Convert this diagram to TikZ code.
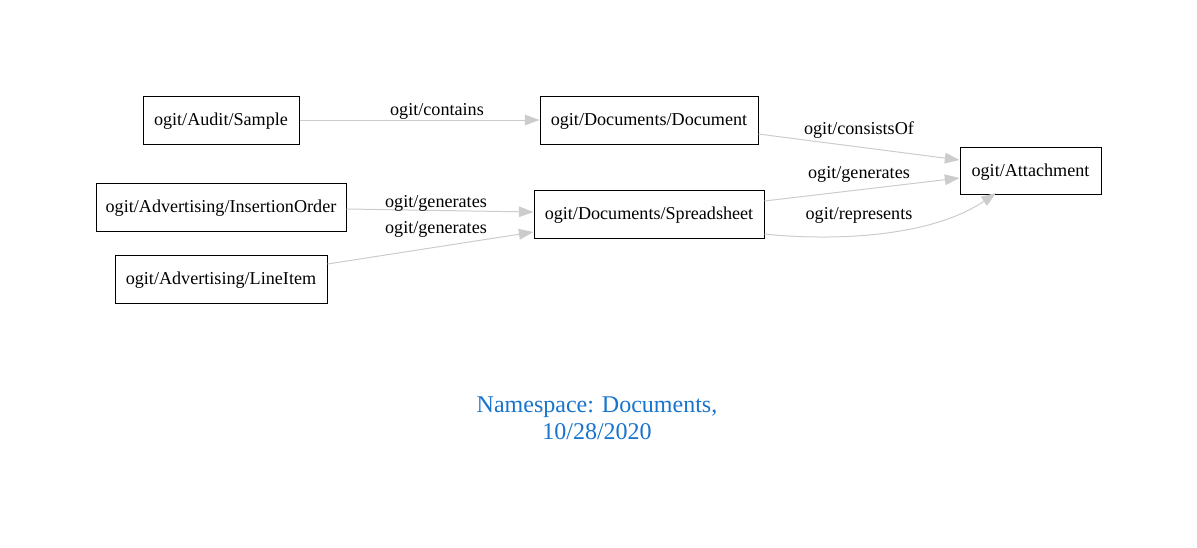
\documentclass[tikz,border=0pt]{standalone}
\usepackage{fontspec}
\setmainfont{Liberation Serif}
\usetikzlibrary{arrows.meta}
\definecolor{edgegray}{RGB}{204,204,204}
\definecolor{capblue}{RGB}{24,116,205}
\tikzset{
  box/.style={draw=black, line width=0.75pt, inner sep=0pt, minimum height=36pt, text depth=0.5pt, font=\fontsize{13.6}{16}\selectfont},
  rel/.style={draw=edgegray, line width=0.75pt, -{Triangle[length=11pt,width=8pt]}},
  lbl/.style={font=\fontsize{13.6}{16}\selectfont, inner sep=0pt}
}
\begin{document}
\begin{tikzpicture}[x=0.75pt,y=-0.75pt]
\useasboundingbox (0,0) rectangle (1197,547);
\node[box, minimum width=117pt] (sample) at (221,120) {ogit/Audit/Sample};
\node[box, minimum width=163.5pt] (doc) at (649,120) {ogit/Documents/Document};
\node[box, minimum width=105.75pt, minimum height=35.25pt] (att) at (1030.5,170.5) {ogit/Attachment};
\node[box, minimum width=187.5pt] (io) at (221,207) {ogit/Advertising/InsertionOrder};
\node[box, minimum width=172.5pt] (ss) at (649,214) {ogit/Documents/Spreadsheet};
\node[box, minimum width=159pt] (li) at (221,279) {ogit/Advertising/LineItem};

\draw[rel] (sample.east) -- (doc.west);
\node[lbl] (l1) at (437,111) {ogit/contains};

\draw[rel] (doc.east |- 0,134) -- (att.west |- 0,160);
\node[lbl] (l2) at (859,130) {ogit/consistsOf};

\draw[rel] (io.east |- 0,209) -- (ss.west |- 0,212);
\node[lbl] (l3) at (436,203) {ogit/generates};

\draw[rel] (li.east |- 0,264) -- (ss.west |- 0,232);
\node[lbl] (l4) at (436,229) {ogit/generates};

\draw[rel] (ss.east |- 0,201) -- (att.west |- 0,178);
\node[lbl] (l5) at (859,174) {ogit/generates};

\draw[rel] (ss.east |- 0,234) .. controls (830,241) and (930,238) .. (996,193);
\node[lbl] (l6) at (859,215) {ogit/represents};

\node[font=\fontsize{18}{20.25}\selectfont, text=capblue, align=center, inner sep=0pt] (cap) at (597,418) {Namespace: Documents,\\10/28/2020};
\end{tikzpicture}
\end{document}
